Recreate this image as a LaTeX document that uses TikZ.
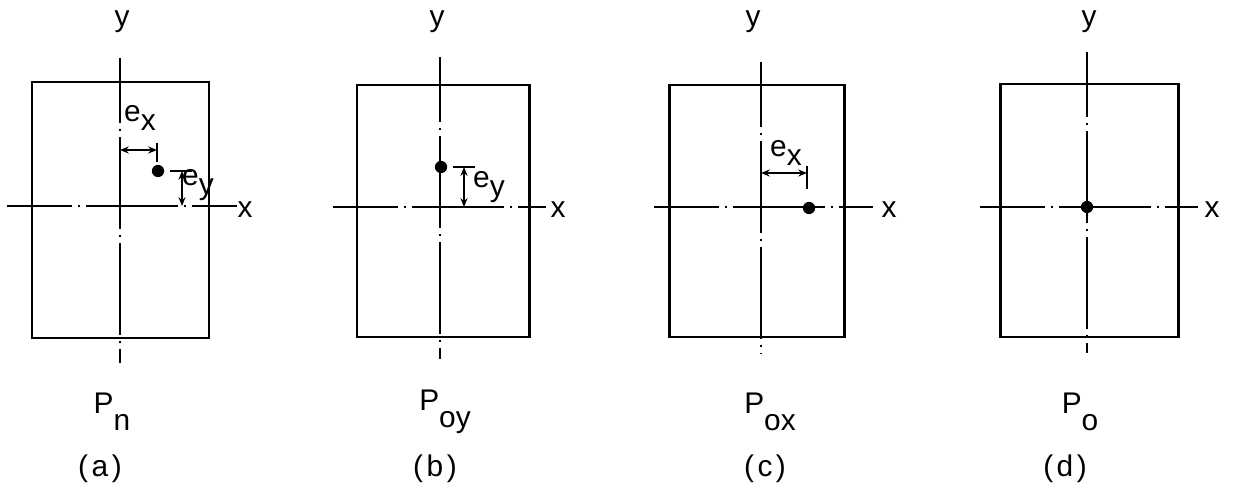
\documentclass[tikz,border=0pt]{standalone}
\usepackage{fontspec}
\setmainfont{Liberation Sans}
\usetikzlibrary{arrows.meta}
\newcommand{\lowr}[1]{\raisebox{-0.55ex}{#1}}
\newcommand{\capt}[1]{(\kern2pt#1\kern2pt)}
\tikzset{
    frame/.style={line width=1.7pt},
    axis/.style={line width=1.2pt, dash pattern=on 52pt off 3.5pt on 1.2pt off 3.5pt,
        dash phase=15pt},
    dimline/.style={line width=1pt,
        {Stealth[length=5pt,width=4pt]}-{Stealth[length=5pt,width=4pt]}},
    tick/.style={line width=1.2pt},
    load/.style={circle, fill=black, inner sep=0pt, minimum size=7pt},
    lbl/.style={font=\fontsize{17}{20}\selectfont, inner sep=1pt},
}
\begin{document}
\begin{tikzpicture}[x=0.02cm,y=-0.02cm]
    \useasboundingbox (0,0) rectangle (1233,493);
    % (a) eccentric both ways
    \scope
    \draw[frame] (32,82) rectangle (209,338);
    \coordinate (at) at (120,58);  \coordinate (ab) at (120,363);
    \coordinate (al) at (7,206);   \coordinate (ar) at (237,206);
    \draw[axis] (at) -- (ab);
    \draw[axis] (al) -- (ar);
    \node[load] (ap) at (158,171) {};
    \coordinate (aex0) at (120,150); \coordinate (aex1) at (157,150);
    \coordinate (atx0) at (157,143); \coordinate (atx1) at (157,162);
    \draw[tick] (atx0) -- (atx1);
    \draw[dimline] (aex0) -- (aex1);
    \coordinate (aty0) at (170,171); \coordinate (aty1) at (192,171);
    \coordinate (aey0) at (182,171); \coordinate (aey1) at (182,206);
    \draw[tick] (aty0) -- (aty1);
    \draw[dimline] (aey0) -- (aey1);
    \node[lbl] (ay) at (122,22) {y};
    \node[lbl] (ax) at (245,210) {x};
    \node[lbl] (aexl) at (140,118) {e\lowr{x}};
    \node[lbl] (aeyl) at (198,185) {e\lowr{y}};
    \node[lbl] (aP) at (112,412) {P\lowr{\lowr{n}}};
    \node[lbl] (acap) at (100,469) {\capt{a}};
    \endscope
    % (b) eccentric about x only
    \scope
    \draw[frame] (357,85) rectangle (529,337);
    \coordinate (bt) at (440,57);  \coordinate (bb) at (440,359);
    \coordinate (bl) at (333,207); \coordinate (br) at (546,207);
    \draw[axis] (bt) -- (bb);
    \draw[axis] (bl) -- (br);
    \node[load] (bp) at (441,167) {};
    \coordinate (bty0) at (453,167); \coordinate (bty1) at (475,167);
    \coordinate (bey0) at (464,167); \coordinate (bey1) at (464,207);
    \draw[tick] (bty0) -- (bty1);
    \draw[dimline] (bey0) -- (bey1);
    \node[lbl] (by) at (437,22) {y};
    \node[lbl] (bx) at (558,210) {x};
    \node[lbl] (beyl) at (489,187) {e\lowr{y}};
    \node[lbl] (bP) at (445,412) {P\lowr{\lowr{oy}}};
    \node[lbl] (bcap) at (435,469) {\capt{b}};
    \endscope
    % (c) eccentric about y only
    \scope
    \draw[frame] (669,85) rectangle (844,337);
    \coordinate (ct) at (761,62);  \coordinate (cb) at (761,354);
    \coordinate (cl) at (654,207); \coordinate (cr) at (873,207);
    \draw[axis] (ct) -- (cb);
    \draw[axis] (cl) -- (cr);
    \node[load] (cp) at (809,208) {};
    \coordinate (cex0) at (761,173); \coordinate (cex1) at (807,173);
    \coordinate (ctx0) at (807,166); \coordinate (ctx1) at (807,189);
    \draw[tick] (ctx0) -- (ctx1);
    \draw[dimline] (cex0) -- (cex1);
    \node[lbl] (cy) at (753,22) {y};
    \node[lbl] (cx) at (889,210) {x};
    \node[lbl] (cexl) at (786,153) {e\lowr{x}};
    \node[lbl] (cP) at (770,412) {P\lowr{\lowr{ox}}};
    \node[lbl] (ccap) at (765,469) {\capt{c}};
    \endscope
    % (d) concentric
    \scope
    \draw[frame] (1000,84) rectangle (1178,337);
    \coordinate (dt) at (1087,52);  \coordinate (db) at (1087,353);
    \coordinate (dl) at (980,207);  \coordinate (dr) at (1198,207);
    \draw[axis] (dt) -- (db);
    \draw[axis] (dl) -- (dr);
    \node[load] (dp) at (1087,207) {};
    \node[lbl] (dy) at (1089,22) {y};
    \node[lbl] (dx) at (1212,210) {x};
    \node[lbl] (dP) at (1080,412) {P\lowr{\lowr{o}}};
    \node[lbl] (dcap) at (1065,469) {\capt{d}};
    \endscope
\end{tikzpicture}
\end{document}
